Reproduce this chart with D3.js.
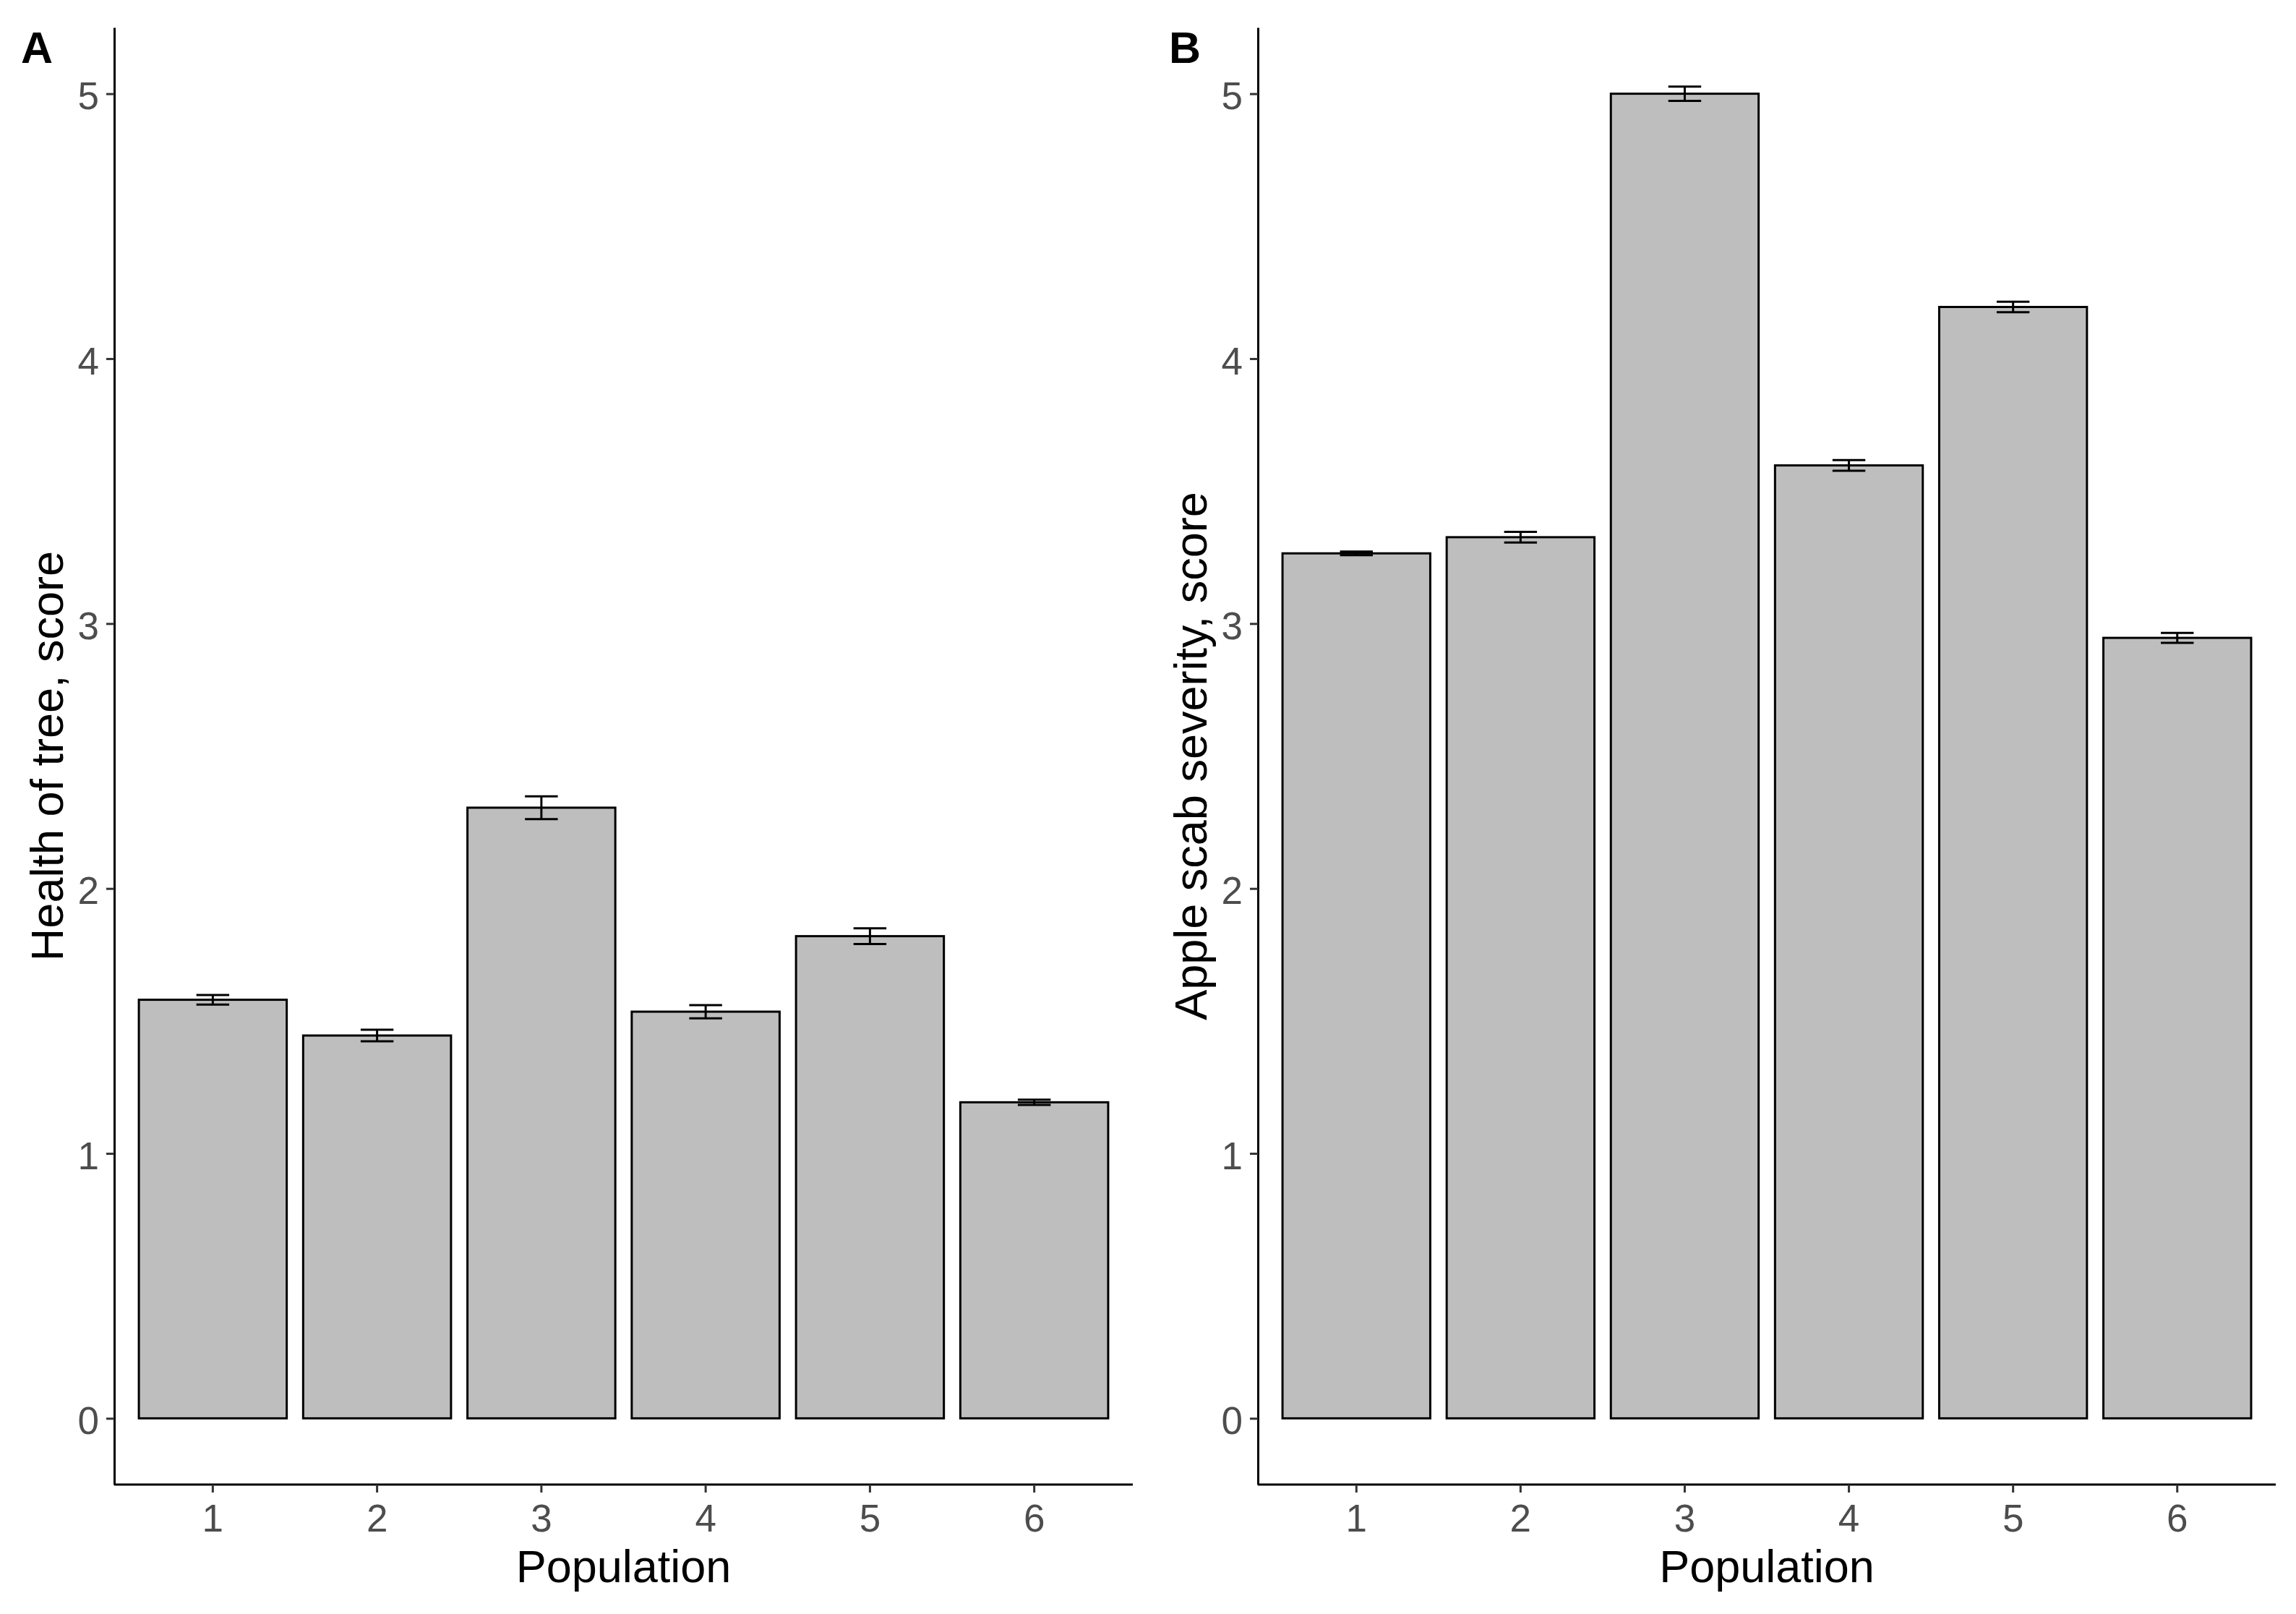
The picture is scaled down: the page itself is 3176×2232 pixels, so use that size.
<!DOCTYPE html>
<html>
<head>
<meta charset="utf-8">
<script src="https://cdn.jsdelivr.net/npm/d3@7"></script>
<style>
  html, body { margin: 0; padding: 0; background: #fff; }
  svg { display: block; }
  text { font-family: "Liberation Sans", Arial, sans-serif; }
</style>
</head>
<body>
<svg id="chart" width="3176" height="2232"></svg>
<script>
// ---- data ----
const populations = ["1", "2", "3", "4", "5", "6"];
const healthMean = [1.58, 1.445, 2.305, 1.535, 1.82, 1.193];
const healthSE   = [0.018, 0.022, 0.043, 0.025, 0.03, 0.01];
const scabMean   = [3.265, 3.326, 5.0, 3.597, 4.195, 2.946];
const scabSE     = [0.007, 0.02, 0.027, 0.02, 0.02, 0.019];
const yTicks     = [0, 1, 2, 3, 4, 5];
const panelTags  = ["A", "B"];
const yTitles    = ["Health of tree, score", "Apple scab severity, score"];
const xTitle     = "Population";

const svg = d3.select("#chart");

const panels = [
  { tag: panelTags[0], yTitle: yTitles[0], mean: healthMean, se: healthSE, x0: 158, x1: 1567, tagX: 29 },
  { tag: panelTags[1], yTitle: yTitles[1], mean: scabMean,   se: scabSE,   x0: 1740, x1: 3148, tagX: 1617 }
];

const plotTop = 38, plotBottom = 2053;

panels.forEach(p => {
  const x = d3.scaleBand().domain(populations).range([p.x0, p.x1])
    .paddingInner(0.1).paddingOuter(0.15);
  const y = d3.scaleLinear().domain([-0.25, 5.25]).range([plotBottom, plotTop]);
  const g = svg.append("g");
  const data = populations.map((c, i) => ({ c, m: p.mean[i], s: p.se[i] }));

  // bars
  g.selectAll("rect.bar").data(data).join("rect")
    .attr("class", "bar")
    .attr("x", d => x(d.c))
    .attr("width", x.bandwidth())
    .attr("y", d => y(d.m))
    .attr("height", d => y(0) - y(d.m))
    .attr("fill", "#BEBEBE")
    .attr("stroke", "#000")
    .attr("stroke-width", 3);

  // error bars
  const capHalf = x.step() * 0.1;
  const eb = g.selectAll("g.eb").data(data).join("g").attr("class", "eb")
    .attr("stroke", "#000").attr("stroke-width", 3).attr("fill", "none");
  eb.append("line")
    .attr("x1", d => x(d.c) + x.bandwidth() / 2).attr("x2", d => x(d.c) + x.bandwidth() / 2)
    .attr("y1", d => y(d.m - d.s)).attr("y2", d => y(d.m + d.s));
  eb.append("line")
    .attr("x1", d => x(d.c) + x.bandwidth() / 2 - capHalf).attr("x2", d => x(d.c) + x.bandwidth() / 2 + capHalf)
    .attr("y1", d => y(d.m + d.s)).attr("y2", d => y(d.m + d.s));
  eb.append("line")
    .attr("x1", d => x(d.c) + x.bandwidth() / 2 - capHalf).attr("x2", d => x(d.c) + x.bandwidth() / 2 + capHalf)
    .attr("y1", d => y(d.m - d.s)).attr("y2", d => y(d.m - d.s));

  // y axis
  const ya = g.append("g").attr("transform", `translate(${p.x0},0)`)
    .call(d3.axisLeft(y).tickValues(yTicks).tickFormat(d3.format("d"))
      .tickSize(11).tickSizeOuter(0).tickPadding(10));
  ya.select(".domain").attr("stroke", "#000").attr("stroke-width", 3);
  ya.selectAll(".tick line").attr("stroke", "#333").attr("stroke-width", 3);
  ya.selectAll(".tick text").attr("font-size", 53).attr("fill", "#4D4D4D")
    .attr("font-family", "Liberation Sans, Arial, sans-serif").attr("dy", "0.4em");

  // x axis
  const xa = g.append("g").attr("transform", `translate(0,${plotBottom})`)
    .call(d3.axisBottom(x).tickSize(11).tickSizeOuter(0).tickPadding(16));
  xa.select(".domain").attr("stroke", "#000").attr("stroke-width", 3)
    .attr("d", `M${p.x0},0H${p.x1}`);
  xa.selectAll(".tick line").attr("stroke", "#333").attr("stroke-width", 3);
  xa.selectAll(".tick text").attr("font-size", 53).attr("fill", "#4D4D4D")
    .attr("font-family", "Liberation Sans, Arial, sans-serif");

  // axis titles
  g.append("text")
    .attr("x", (p.x0 + p.x1) / 2).attr("y", 2188)
    .attr("text-anchor", "middle").attr("font-size", 63).attr("fill", "#000")
    .text(xTitle);
  g.append("text")
    .attr("transform", `translate(${p.x0 - 71},${(plotTop + plotBottom) / 2}) rotate(-90)`)
    .attr("text-anchor", "middle").attr("font-size", 63).attr("fill", "#000")
    .text(p.yTitle);

  // tag
  g.append("text")
    .attr("x", p.tagX).attr("y", 87)
    .attr("font-size", 61).attr("font-weight", "bold").attr("fill", "#000")
    .text(p.tag);
});
</script>
</body>
</html>
